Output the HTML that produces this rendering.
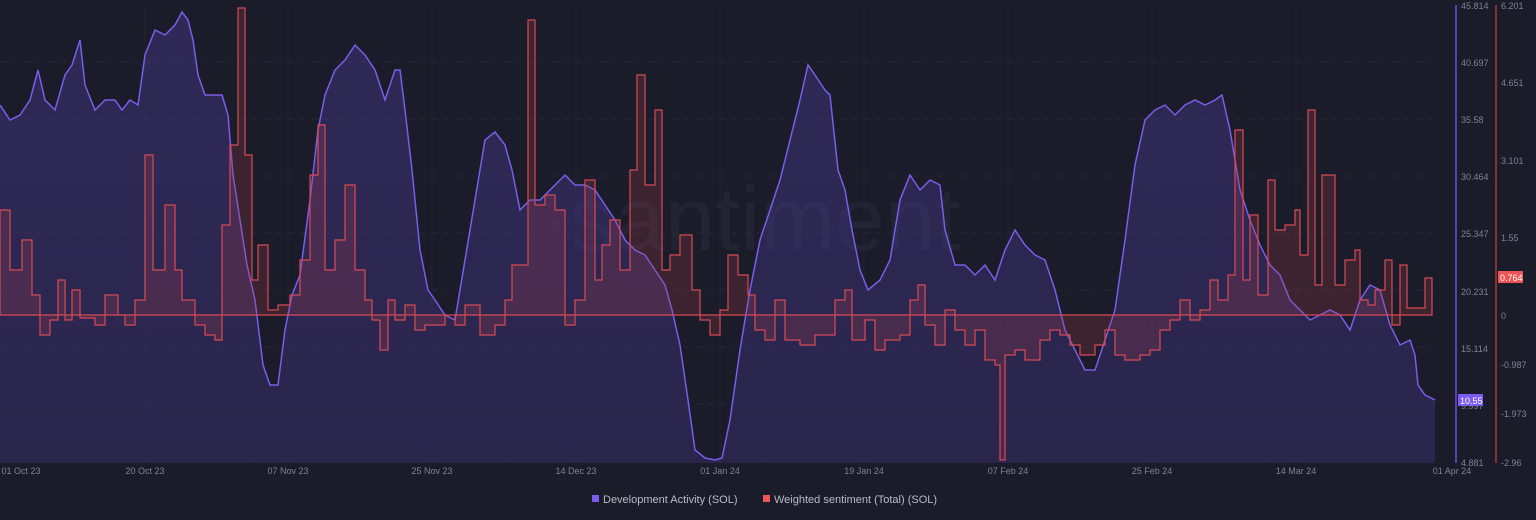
<!DOCTYPE html>
<html><head><meta charset="utf-8"><style>
html,body{margin:0;padding:0;background:#1b1c29;}
svg{display:block;font-family:"Liberation Sans",sans-serif;}
</style></head><body>
<svg width="1536" height="520" viewBox="0 0 1536 520">
<defs>
<linearGradient id="pg" x1="0" y1="0" x2="0" y2="1">
<stop offset="0" stop-color="#4a3b95" stop-opacity="0.42"/>
<stop offset="1" stop-color="#352c66" stop-opacity="0.55"/>
</linearGradient>
</defs>
<rect width="1536" height="520" fill="#1b1c29"/>
<g stroke="#272939" stroke-dasharray="6,6" stroke-width="1">
<line x1="0" y1="62" x2="1435" y2="62"/><line x1="0" y1="119" x2="1435" y2="119"/>
<line x1="0" y1="176" x2="1435" y2="176"/><line x1="0" y1="233" x2="1435" y2="233"/>
<line x1="0" y1="290" x2="1435" y2="290"/><line x1="0" y1="347" x2="1435" y2="347"/>
<line x1="0" y1="404" x2="1435" y2="404"/>
</g>
<g stroke="#212334" stroke-width="1">
<line x1="145" y1="5" x2="145" y2="463"/><line x1="288" y1="5" x2="288" y2="463"/>
<line x1="432" y1="5" x2="432" y2="463"/><line x1="576" y1="5" x2="576" y2="463"/>
<line x1="720" y1="5" x2="720" y2="463"/><line x1="864" y1="5" x2="864" y2="463"/>
<line x1="1008" y1="5" x2="1008" y2="463"/><line x1="1152" y1="5" x2="1152" y2="463"/>
<line x1="1296" y1="5" x2="1296" y2="463"/>
</g>
<text x="750" y="250" font-size="90" fill="#262839" text-anchor="middle" opacity="0.7">·santiment</text>
<polygon fill="url(#pg)" points="0,463 0,105 10,120 20,115 30,100 38,70 45,100 55,110 65,75 72,65 80,40 85,85 95,110 105,100 115,100 122,110 130,100 138,105 145,55 155,30 165,35 175,25 182,12 188,20 193,40 198,75 205,95 215,95 222,95 228,115 233,175 240,220 247,265 255,300 263,365 270,385 278,385 285,330 292,295 300,275 310,200 318,130 325,95 335,70 345,60 355,45 365,55 375,70 385,100 395,70 400,70 405,110 412,170 420,250 428,290 435,300 445,315 455,320 465,260 475,200 485,140 495,132 505,145 512,170 520,210 530,200 540,200 555,185 565,175 575,185 585,185 595,190 605,205 615,220 625,240 635,250 645,255 655,270 665,285 672,310 680,345 688,400 695,450 705,458 715,460 722,458 730,420 740,350 750,290 760,240 770,210 780,180 790,140 800,100 808,65 815,75 825,90 830,95 838,170 845,190 852,230 860,270 868,290 880,280 890,260 900,200 910,175 920,190 930,180 940,185 945,230 955,265 965,265 975,275 985,265 995,280 1005,250 1015,230 1025,245 1035,255 1045,260 1055,290 1065,330 1075,350 1085,370 1095,370 1105,340 1115,310 1125,240 1135,165 1145,120 1155,110 1165,105 1175,115 1185,105 1195,100 1205,105 1215,100 1222,95 1230,130 1240,190 1250,220 1260,245 1270,265 1280,275 1290,300 1300,310 1310,320 1320,315 1330,310 1340,315 1350,330 1360,300 1370,285 1380,290 1390,325 1400,345 1410,340 1415,355 1418,385 1425,395 1435,400 1435,463"/>
<polyline fill="none" stroke="#7c5ce8" stroke-width="1.5" points="0,105 10,120 20,115 30,100 38,70 45,100 55,110 65,75 72,65 80,40 85,85 95,110 105,100 115,100 122,110 130,100 138,105 145,55 155,30 165,35 175,25 182,12 188,20 193,40 198,75 205,95 215,95 222,95 228,115 233,175 240,220 247,265 255,300 263,365 270,385 278,385 285,330 292,295 300,275 310,200 318,130 325,95 335,70 345,60 355,45 365,55 375,70 385,100 395,70 400,70 405,110 412,170 420,250 428,290 435,300 445,315 455,320 465,260 475,200 485,140 495,132 505,145 512,170 520,210 530,200 540,200 555,185 565,175 575,185 585,185 595,190 605,205 615,220 625,240 635,250 645,255 655,270 665,285 672,310 680,345 688,400 695,450 705,458 715,460 722,458 730,420 740,350 750,290 760,240 770,210 780,180 790,140 800,100 808,65 815,75 825,90 830,95 838,170 845,190 852,230 860,270 868,290 880,280 890,260 900,200 910,175 920,190 930,180 940,185 945,230 955,265 965,265 975,275 985,265 995,280 1005,250 1015,230 1025,245 1035,255 1045,260 1055,290 1065,330 1075,350 1085,370 1095,370 1105,340 1115,310 1125,240 1135,165 1145,120 1155,110 1165,105 1175,115 1185,105 1195,100 1205,105 1215,100 1222,95 1230,130 1240,190 1250,220 1260,245 1270,265 1280,275 1290,300 1300,310 1310,320 1320,315 1330,310 1340,315 1350,330 1360,300 1370,285 1380,290 1390,325 1400,345 1410,340 1415,355 1418,385 1425,395 1435,400"/>
<polygon fill="#b0404a" fill-opacity="0.22" stroke="#d84a55" stroke-width="1.2" points="0,315 0,210 10,210 10,270 22,270 22,240 32,240 32,295 40,295 40,335 50,335 50,320 58,320 58,280 65,280 65,320 72,320 72,290 80,290 80,318 95,318 95,325 105,325 105,295 118,295 118,315 125,315 125,325 135,325 135,300 145,300 145,155 153,155 153,270 165,270 165,205 175,205 175,270 182,270 182,300 195,300 195,325 205,325 205,335 215,335 215,340 222,340 222,225 230,225 230,145 238,145 238,8 245,8 245,155 252,155 252,280 258,280 258,245 268,245 268,310 278,310 278,305 290,305 290,295 300,295 300,260 310,260 310,175 318,175 318,125 325,125 325,270 335,270 335,240 345,240 345,185 355,185 355,270 365,270 365,300 372,300 372,320 380,320 380,350 388,350 388,300 395,300 395,320 405,320 405,305 415,305 415,330 425,330 425,325 445,325 445,315 455,315 455,325 465,325 465,305 480,305 480,335 495,335 495,325 505,325 505,300 512,300 512,265 528,265 528,20 535,20 535,205 545,205 545,195 555,195 555,210 565,210 565,325 575,325 575,300 585,300 585,180 595,180 595,280 602,280 602,245 610,245 610,220 620,220 620,270 630,270 630,170 637,170 637,75 645,75 645,185 655,185 655,110 662,110 662,270 670,270 670,255 680,255 680,235 692,235 692,290 700,290 700,320 710,320 710,335 720,335 720,310 728,310 728,255 738,255 738,275 748,275 748,295 755,295 755,330 765,330 765,340 775,340 775,300 785,300 785,340 800,340 800,345 815,345 815,335 835,335 835,300 845,300 845,290 852,290 852,340 865,340 865,320 875,320 875,350 885,350 885,340 900,340 900,335 910,335 910,300 918,300 918,285 925,285 925,325 935,325 935,345 945,345 945,310 955,310 955,330 965,330 965,345 975,345 975,330 985,330 985,360 995,360 995,365 1000,365 1000,460 1005,460 1005,355 1015,355 1015,350 1025,350 1025,360 1040,360 1040,340 1050,340 1050,330 1060,330 1060,335 1070,335 1070,345 1080,345 1080,355 1095,355 1095,345 1105,345 1105,330 1115,330 1115,355 1125,355 1125,360 1140,360 1140,355 1150,355 1150,350 1160,350 1160,330 1170,330 1170,320 1180,320 1180,300 1190,300 1190,320 1200,320 1200,310 1210,310 1210,280 1218,280 1218,300 1228,300 1228,275 1235,275 1235,130 1243,130 1243,280 1250,280 1250,215 1258,215 1258,295 1268,295 1268,180 1275,180 1275,230 1285,230 1285,225 1295,225 1295,210 1300,210 1300,255 1308,255 1308,110 1315,110 1315,285 1322,285 1322,175 1335,175 1335,285 1345,285 1345,260 1355,260 1355,250 1360,250 1360,300 1368,300 1368,305 1375,305 1375,290 1385,290 1385,260 1392,260 1392,325 1400,325 1400,265 1407,265 1407,308 1425,308 1425,278 1432,278 1432,315"/>
<line x1="0" y1="315" x2="1432" y2="315" stroke="#d84a55" stroke-width="1"/>
<line x1="1456" y1="5" x2="1456" y2="463" stroke="#6a4fd8" stroke-width="1.5"/>
<line x1="1496" y1="5" x2="1496" y2="463" stroke="#a83a3a" stroke-width="1.5"/>
<g font-size="9" fill="#7f8196">
<text x="1461" y="9">45.814</text><text x="1461" y="66">40.697</text><text x="1461" y="123">35.58</text>
<text x="1461" y="180">30.464</text><text x="1461" y="237">25.347</text><text x="1461" y="295">20.231</text>
<text x="1461" y="352">15.114</text><text x="1461" y="409">9.997</text><text x="1461" y="466">4.881</text>
<text x="1501" y="9">6.201</text><text x="1501" y="86">4.651</text><text x="1501" y="164">3.101</text>
<text x="1501" y="241">1.55</text><text x="1501" y="319">0</text><text x="1501" y="368">-0.987</text>
<text x="1501" y="417">-1.973</text><text x="1501" y="466">-2.96</text>
</g>
<rect x="1458" y="394" width="25" height="12" fill="#7b5cf0"/>
<text x="1460" y="404" font-size="9" fill="#fff">10.55</text>
<rect x="1498" y="271" width="25" height="12" fill="#f05555"/>
<text x="1500" y="281" font-size="9" fill="#fff">0.764</text>
<g font-size="9" fill="#7f8196" text-anchor="middle">
<text x="21" y="474">01 Oct 23</text><text x="145" y="474">20 Oct 23</text><text x="288" y="474">07 Nov 23</text>
<text x="432" y="474">25 Nov 23</text><text x="576" y="474">14 Dec 23</text><text x="720" y="474">01 Jan 24</text>
<text x="864" y="474">19 Jan 24</text><text x="1008" y="474">07 Feb 24</text><text x="1152" y="474">25 Feb 24</text>
<text x="1296" y="474">14 Mar 24</text><text x="1452" y="474">01 Apr 24</text>
</g>
<rect x="592" y="495" width="7" height="7" fill="#7b5cf0"/>
<text x="603" y="503" font-size="11" fill="#babbc8">Development Activity (SOL)</text>
<rect x="763" y="495" width="7" height="7" fill="#f05555"/>
<text x="774" y="503" font-size="11" fill="#babbc8">Weighted sentiment (Total) (SOL)</text>
</svg>
</body></html>
